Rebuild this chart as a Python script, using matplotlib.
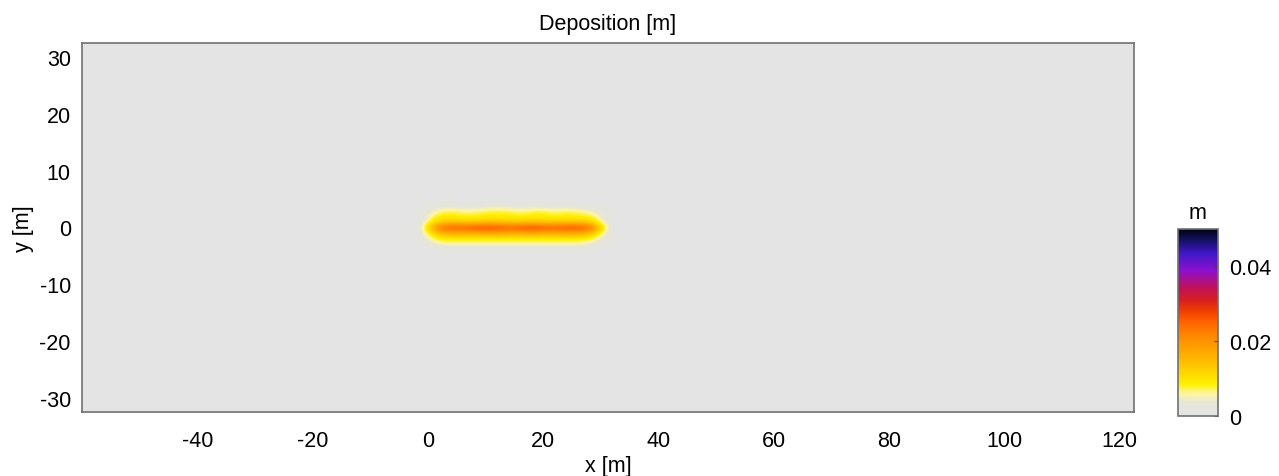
import numpy as np
import matplotlib
matplotlib.use('Agg')
import matplotlib.pyplot as plt
from matplotlib import colors

plt.rcParams['font.family'] = ['Liberation Sans', 'DejaVu Sans']
plt.rcParams['axes.unicode_minus'] = False

# deposit thickness table [m]; columns = x positions, rows = y positions
x_nodes = np.arange(-2, 34, 2)          # -2 .. 32
y_nodes = np.array([5, 4, 3, 2, 1, 0, -1, -2, -3, -4, -5])
depo = np.array([
  # -2   0      2      4      6      8      10     12     14     16     18     20     22     24     26     28     30     32
  [0, 0.000, 0.000, 0.000, 0.000, 0.000, 0.000, 0.000, 0.000, 0.000, 0.000, 0.000, 0.000, 0.000, 0.000, 0.000, 0.000, 0],
  [0, 0.000, 0.002, 0.002, 0.001, 0.001, 0.002, 0.003, 0.002, 0.001, 0.002, 0.002, 0.001, 0.002, 0.001, 0.000, 0.000, 0],
  [0, 0.003, 0.006, 0.007, 0.006, 0.006, 0.007, 0.007, 0.007, 0.006, 0.007, 0.007, 0.006, 0.007, 0.006, 0.005, 0.002, 0],
  [0, 0.005, 0.009, 0.009, 0.008, 0.008, 0.009, 0.009, 0.009, 0.008, 0.009, 0.009, 0.008, 0.009, 0.008, 0.008, 0.004, 0],
  [0, 0.007, 0.012, 0.013, 0.012, 0.012, 0.013, 0.013, 0.012, 0.012, 0.013, 0.012, 0.012, 0.013, 0.012, 0.012, 0.006, 0],
  [0, 0.012, 0.025, 0.027, 0.027, 0.028, 0.029, 0.028, 0.027, 0.028, 0.029, 0.028, 0.027, 0.028, 0.028, 0.026, 0.012, 0],
  [0, 0.008, 0.015, 0.016, 0.016, 0.016, 0.017, 0.017, 0.016, 0.016, 0.017, 0.016, 0.016, 0.017, 0.016, 0.015, 0.007, 0],
  [0, 0.005, 0.009, 0.009, 0.009, 0.009, 0.009, 0.009, 0.009, 0.009, 0.009, 0.009, 0.009, 0.009, 0.009, 0.008, 0.004, 0],
  [0, 0.002, 0.005, 0.005, 0.005, 0.005, 0.005, 0.005, 0.005, 0.005, 0.005, 0.005, 0.005, 0.005, 0.005, 0.004, 0.001, 0],
  [0, 0.000, 0.001, 0.001, 0.001, 0.001, 0.001, 0.001, 0.001, 0.001, 0.001, 0.001, 0.001, 0.001, 0.001, 0.000, 0.000, 0],
  [0, 0.000, 0.000, 0.000, 0.000, 0.000, 0.000, 0.000, 0.000, 0.000, 0.000, 0.000, 0.000, 0.000, 0.000, 0.000, 0.000, 0],
])

x_lim = (-60, 122.5)
y_lim = (-32.5, 32.5)
x_ticks = [-40, -20, 0, 20, 40, 60, 80, 100, 120]
y_ticks = [-30, -20, -10, 0, 10, 20, 30]
c_ticks = [0, 0.02, 0.04]
c_max = 0.05

# colour map: grey -> yellow -> orange -> red -> purple -> blue -> black
stops = [
  (0.00, '#e4e4e4'),
  (0.07, '#e6e6d8'),
  (0.12, '#fff6a0'),
  (0.17, '#fff000'),
  (0.24, '#ffd200'),
  (0.32, '#ffb000'),
  (0.42, '#ff8c00'),
  (0.50, '#ff6400'),
  (0.56, '#f04000'),
  (0.62, '#d82020'),
  (0.69, '#c0105c'),
  (0.78, '#8c10d0'),
  (0.87, '#4018c8'),
  (0.95, '#10105a'),
  (1.00, '#000010'),
]
cmap = colors.LinearSegmentedColormap.from_list('depo', stops)
cmap.set_under('#e4e4e4')

fig = plt.figure(figsize=(12.79, 4.77), dpi=100)
ax = fig.add_axes([0.0641, 0.1342, 0.8225, 0.7736])
ax.set_facecolor('#e4e4e4')

dx = x_nodes[1] - x_nodes[0]
dy = y_nodes[0] - y_nodes[1]
im = ax.imshow(depo, cmap=cmap, vmin=0, vmax=c_max, interpolation='bicubic',
               extent=[x_nodes[0] - dx/2, x_nodes[-1] + dx/2,
                       y_nodes[-1] - dy/2, y_nodes[0] + dy/2],
               aspect='auto', origin='upper')

ax.set_xlim(*x_lim)
ax.set_ylim(*y_lim)
ax.set_xticks(x_ticks)
ax.set_yticks(y_ticks)
ax.tick_params(axis='both', length=0, labelsize=15.5)
ax.tick_params(axis='x', pad=13)
ax.tick_params(axis='y', pad=8)
for s in ax.spines.values():
  s.set_color('#707070')
  s.set_linewidth(1.2)

ax.set_title('Deposition [m]', fontsize=15.5, pad=10)
ax.set_xlabel('x [m]', fontsize=15.5, labelpad=3)
ax.set_ylabel('y [m]', fontsize=15.5, labelpad=4)

cax = fig.add_axes([0.921, 0.1258, 0.0313, 0.392])
cb = fig.colorbar(im, cax=cax, ticks=c_ticks)
cb.ax.set_yticklabels(['0', '0.02', '0.04'])
cb.ax.tick_params(labelsize=15.5, direction='in', length=3, pad=8, color='#404040')
cb.outline.set_edgecolor('#707070')
cb.outline.set_linewidth(1.2)
cb.ax.set_title('m', fontsize=15.5, pad=8)

fig.savefig('out.png', dpi=100)
